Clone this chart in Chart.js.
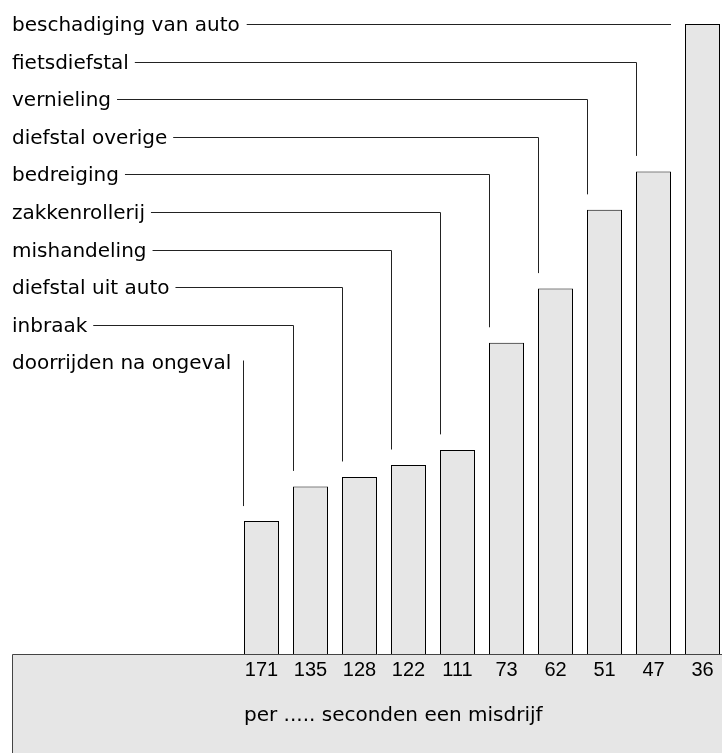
<!DOCTYPE html>
<html><head><meta charset="utf-8">
<script src="https://cdn.jsdelivr.net/npm/chart.js@4"></script>
<style>html,body{margin:0;padding:0;background:#fff;overflow:hidden;width:722px;height:753px}
#wrap{position:absolute;left:0;top:0;width:741px;height:753px}</style>
</head><body><div id="wrap"><canvas id="c" width="741" height="753"></canvas></div>
<script>
const categories = ['doorrijden na ongeval','inbraak','diefstal uit auto','mishandeling','zakkenrollerij','bedreiging','diefstal overige','vernieling','fietsdiefstal','beschadiging van auto'];
const secondsLabels = ['171','135','128','122','111','73','62','51','47','36'];
const misdrijvenPerUur = [21.1, 26.6, 28.1, 30.0, 32.4, 49.4, 58.0, 70.5, 76.6, 100];
const axisTitle = 'per ..... seconden een misdrijf';

const LABEL_FONT = '20px "DejaVu Sans"';

const deco = {
  id: 'deco',
  beforeDraw(chart) {
    const ctx = chart.ctx, ca = chart.chartArea;
    ctx.save();
    ctx.fillStyle = '#e6e6e6';
    ctx.fillRect(12.5, ca.bottom + 0.5, chart.width, chart.height);
    ctx.strokeStyle = '#444';
    ctx.lineWidth = 1;
    ctx.beginPath();
    ctx.moveTo(12.5, chart.height + 5);
    ctx.lineTo(12.5, ca.bottom + 0.5);
    ctx.lineTo(chart.width + 5, ca.bottom + 0.5);
    ctx.stroke();
    ctx.restore();
  },
  afterDatasetsDraw(chart) {
    const ctx = chart.ctx;
    const meta = chart.getDatasetMeta(0);
    const n = categories.length;
    ctx.save();
    ctx.font = LABEL_FONT;
    ctx.fillStyle = '#000';
    ctx.textBaseline = 'alphabetic';
    ctx.textAlign = 'left';
    ctx.strokeStyle = '#222';
    ctx.lineWidth = 1;
    for (let i = 0; i < n; i++) {
      const k = n - 1 - i;
      const lineY = Math.round(24 + 37.6 * k) + 0.5;
      const bar = meta.data[i];
      const barLeft = bar.x - bar.width / 2;
      const barTop = bar.y;
      ctx.fillText(categories[i], 12, lineY + 6.5);
      const textEnd = 12 + ctx.measureText(categories[i]).width;
      ctx.beginPath();
      if (i === n - 1) {
        ctx.moveTo(textEnd + 7, lineY);
        ctx.lineTo(barLeft - 14, lineY);
      } else if (i === 0) {
        const vx = Math.round(barLeft) - 0.5;
        ctx.moveTo(vx, lineY - 2);
        ctx.lineTo(vx, barTop - 15);
      } else {
        const vx = Math.round(barLeft) + 0.5;
        ctx.moveTo(textEnd + 6, lineY);
        ctx.lineTo(vx, lineY);
        ctx.lineTo(vx, barTop - 15.5);
      }
      ctx.stroke();
    }
    const first = meta.data[0];
    ctx.fillText(axisTitle, first.x - first.width / 2, 721);
    ctx.restore();
  }
};

new Chart(document.getElementById('c'), {
  type: 'bar',
  data: {
    labels: secondsLabels,
    datasets: [{
      data: misdrijvenPerUur,
      backgroundColor: '#e6e6e6',
      borderColor: '#000',
      borderWidth: 1,
      categoryPercentage: 1,
      barPercentage: 35 / 49
    }]
  },
  options: {
    responsive: false,
    devicePixelRatio: 1,
    animation: false,
    layout: { padding: { left: 237, right: 14, top: 24, bottom: 0 } },
    plugins: { legend: { display: false }, tooltip: { enabled: false }, title: { display: false } },
    scales: {
      x: {
        grid: { display: false, drawTicks: false },
        border: { display: false },
        ticks: { color: '#000', padding: 4, maxRotation: 0, autoSkip: false, font: { family: '"Liberation Sans", Arial', size: 20 } },
        afterFit(scale) { scale.height = 99; }
      },
      y: { display: false, min: 0, max: 100 }
    }
  },
  plugins: [deco]
});
</script></body></html>
